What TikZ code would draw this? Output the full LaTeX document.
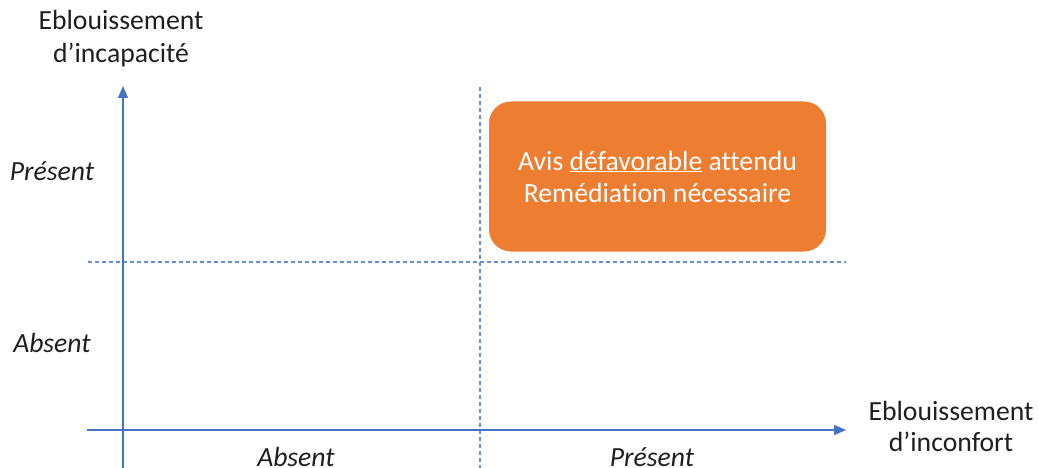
\documentclass[tikz,border=0pt]{standalone}
\usepackage{fontspec}
\setmainfont{Carlito}[Ligatures=NoCommon]
\usetikzlibrary{arrows.meta}
\definecolor{axisblue}{HTML}{4472C4}
\definecolor{boxorange}{HTML}{ED7D31}
\definecolor{txt}{HTML}{1F1F1F}
\tikzset{
  axis/.style={draw=axisblue, line width=1.3pt, -{Triangle[length=12pt,width=10pt]}},
  divider/.style={draw=axisblue!80, line width=1.1pt, dash pattern=on 4pt off 3pt},
  lbl/.style={anchor=base, text=txt, inner sep=0pt, font=\fontsize{27.7}{33}\selectfont},
  ilbl/.style={lbl, font=\fontsize{27.7}{33}\selectfont\itshape},
  verdict/.style={rectangle, rounded corners=22pt, fill=boxorange, text=white,
    minimum width=337pt, minimum height=150pt, align=center, inner sep=0pt,
    font=\fontsize{27.7}{32}\selectfont}
}
\begin{document}
\begin{tikzpicture}[x=1pt,y=-1pt]
\useasboundingbox (0,0) rectangle (1039,468);
% guide coordinates
\coordinate (vbot) at (123,468);
\coordinate (vtop) at (123,86);
\coordinate (hleft) at (87,430);
\coordinate (hright) at (846,430);
\coordinate (dvtop) at (480,87);
\coordinate (dvbot) at (480,468);
\coordinate (dhl) at (88,262);
\coordinate (dhr) at (846,262);
% dashed dividers
\draw[divider] (dvtop) -- (dvbot);
\draw[divider] (dhl) -- (dhr);
% axes
\draw[axis] (vbot) -- (vtop);
\draw[axis] (hleft) -- (hright);
% box
\node[verdict] (box) at (657.5,176.5) {Avis \underline{défavorable} attendu\\Remédiation nécessaire};
% labels
\node[lbl] (ytitle1) at (121,30) {Eblouissement};
\node[lbl] (ytitle2) at (121,63) {d’incapacité};
\node[ilbl] (ypres) at (52,180) {Présent};
\node[ilbl] (yabs) at (52,352) {Absent};
\node[ilbl] (xabs) at (296,466) {Absent};
\node[ilbl] (xpres) at (652,466) {Présent};
\node[lbl] (xtitle1) at (951,420) {Eblouissement};
\node[lbl] (xtitle2) at (951,451) {d’inconfort};
\end{tikzpicture}
\end{document}
